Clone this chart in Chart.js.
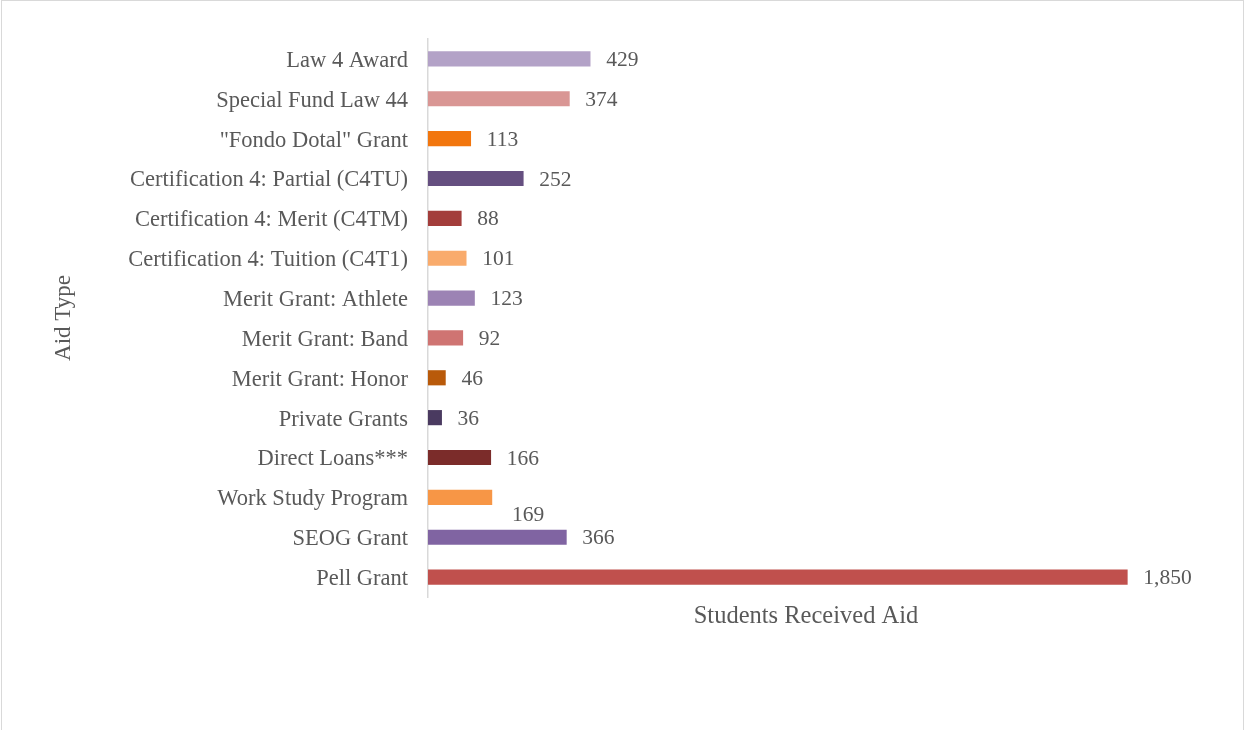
<!DOCTYPE html>
<html>
<head>
<meta charset="utf-8">
<script src="https://cdn.jsdelivr.net/npm/chart.js@4.4.1/dist/chart.umd.min.js"></script>
<style>
  html, body { margin: 0; padding: 0; background: #fff; }
  #frame { position: absolute; left: 1px; top: 0; width: 1243px; height: 740px; border: 1.5px solid #d9d9d9; box-sizing: border-box; }
  #wrap { position: absolute; left: 0; top: 0; width: 1247px; height: 730px; }
</style>
</head>
<body>
<div id="frame"></div>
<div id="wrap"><canvas id="aidChart"></canvas></div>
<script>
// données (de haut en bas)
var aidTypes = [
  'Law 4 Award',
  'Special Fund Law 44',
  '"Fondo Dotal" Grant',
  'Certification 4: Partial (C4TU)',
  'Certification 4: Merit (C4TM)',
  'Certification 4: Tuition (C4T1)',
  'Merit Grant: Athlete',
  'Merit Grant: Band',
  'Merit Grant: Honor',
  'Private Grants',
  'Direct Loans***',
  'Work Study Program',
  'SEOG Grant',
  'Pell Grant'
];
var studentsAided = [429, 374, 113, 252, 88, 101, 123, 92, 46, 36, 166, 169, 366, 1850];
var barColors = [
  '#b3a2c7', '#d99694', '#f2760e', '#654f80', '#a33d3b', '#f9ab6c', '#9c83b4',
  '#cf7472', '#b95a0a', '#4a3a60', '#7b2c2a', '#f79646', '#8064a2', '#c0504d'
];

var textColor = '#595959';
var serif = "'Liberation Serif', 'DejaVu Serif', serif";

// étiquettes de valeur au bout des barres
var valueLabels = {
  id: 'valueLabels',
  afterDatasetsDraw: function (chart) {
    var ctx = chart.ctx;
    var meta = chart.getDatasetMeta(0);
    ctx.save();
    ctx.font = '21.5px ' + serif;
    ctx.fillStyle = textColor;
    ctx.textAlign = 'left';
    ctx.textBaseline = 'middle';
    meta.data.forEach(function (bar, i) {
      var txt = studentsAided[i].toLocaleString('en-US');
      var dx = 16, dy = 1.5;
      if (aidTypes[i] == 'Work Study Program') { dx = 20; dy = 18; } // décalé comme dans l'original
      ctx.fillText(txt, bar.x + dx, bar.y + dy);
    });
    ctx.restore();
  }
};

new Chart(document.getElementById('aidChart'), {
  type: 'bar',
  data: {
    labels: aidTypes,
    datasets: [{
      data: studentsAided,
      backgroundColor: barColors,
      barThickness: 14.5
    }]
  },
  options: {
    indexAxis: 'y',
    responsive: true,
    maintainAspectRatio: false,
    animation: false,
    layout: { padding: { left: 48, right: 63, top: 39, bottom: 96 } },
    plugins: {
      legend: { display: false },
      tooltip: { enabled: false }
    },
    scales: {
      x: {
        min: 0,
        max: 2000,
        grid: { display: false, drawTicks: false },
        border: { display: false },
        ticks: { display: false },
        title: {
          display: true,
          text: 'Students Received Aid',
          color: textColor,
          font: { family: serif, size: 24.5 },
          padding: { top: 4, bottom: 3 }
        },
        afterFit: function (scale) { scale.height = 37; }
      },
      y: {
        grid: { display: false, drawTicks: false },
        border: { display: true, color: '#d9d9d9', width: 1.5 },
        ticks: {
          color: textColor,
          font: { family: serif, size: 22.5 },
          padding: 20,
          labelOffset: 2,
          autoSkip: false
        },
        title: {
          display: true,
          text: 'Aid Type',
          color: textColor,
          font: { family: serif, size: 23 },
          padding: { top: 2, bottom: 4 }
        },
        afterFit: function (scale) { scale.width = 380; }
      }
    }
  },
  plugins: [valueLabels]
});
</script>
</body>
</html>
